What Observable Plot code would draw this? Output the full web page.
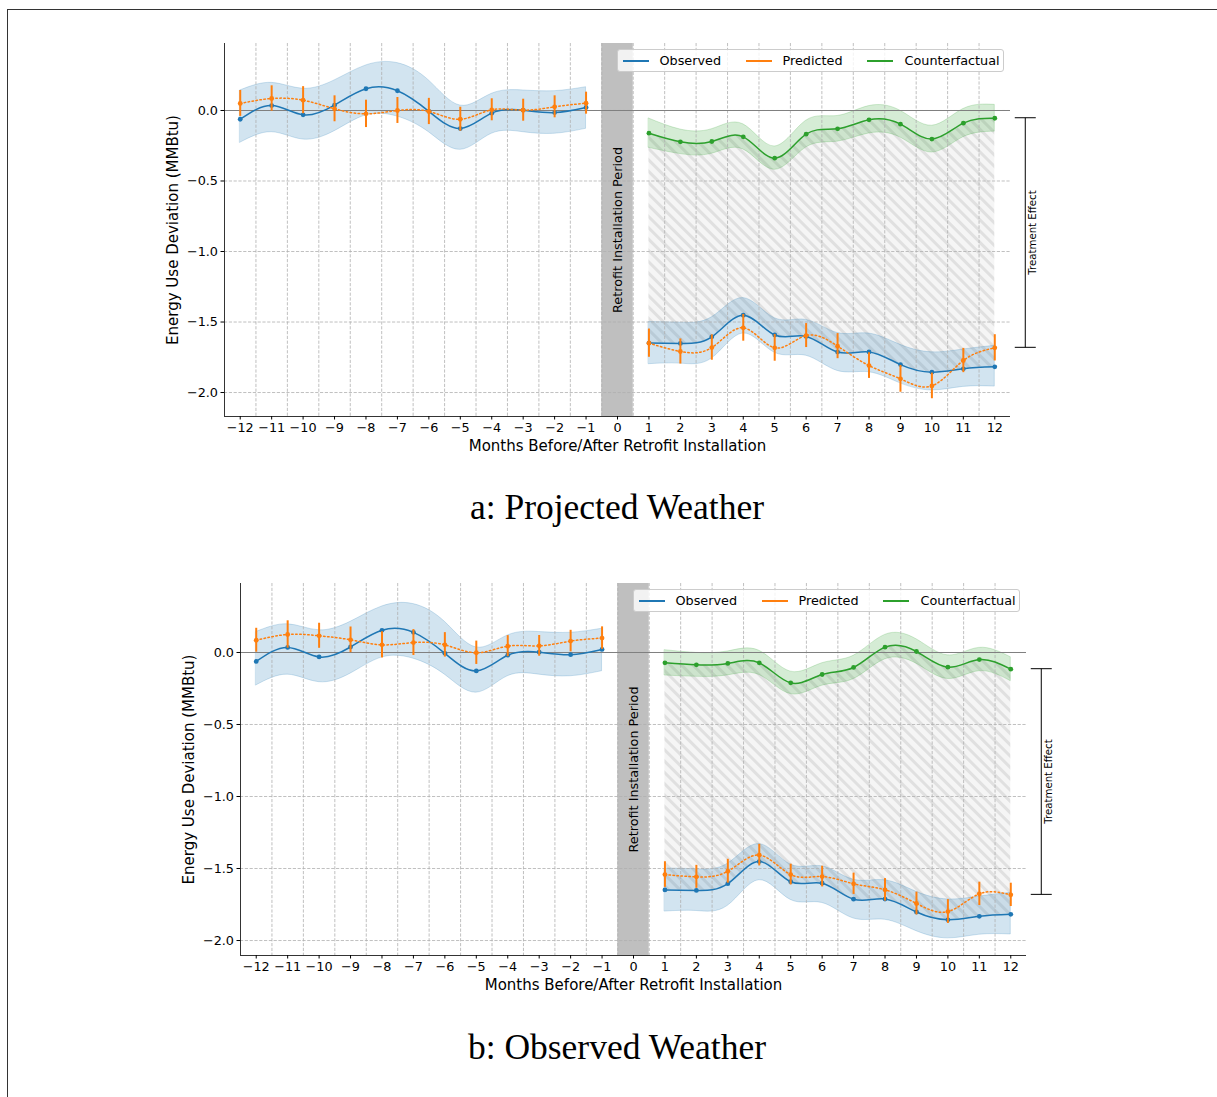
<!DOCTYPE html>
<html><head><meta charset="utf-8">
<script src="https://cdn.jsdelivr.net/npm/d3@7"></script>
<script src="https://cdn.jsdelivr.net/npm/@observablehq/plot@0.6"></script>
<style>
body{margin:0;background:#fff;font-family:"DejaVu Sans",sans-serif;}
#page{position:relative;width:1217px;height:1097px;overflow:hidden;background:#fff;}
.panel{position:absolute;left:0;}
#frame{position:absolute;left:7px;top:9px;width:1230px;height:1110px;border-top:1.5px solid #333;border-left:1.5px solid #333;pointer-events:none;z-index:5;}
.title{position:absolute;left:0;width:1234px;text-align:center;font-family:"Liberation Serif",serif;font-size:35.5px;line-height:34px;color:#000;}
.legend{position:absolute;width:387px;height:23px;box-sizing:border-box;border:1px solid #cccccc;border-radius:3px;background:rgba(255,255,255,0.8);z-index:3;font-family:"DejaVu Sans",sans-serif;font-size:12.8px;}
.legend .ln{position:absolute;top:10px;height:1.5px;width:26px;}
.legend .tx{position:absolute;top:2.5px;line-height:16px;color:#000;white-space:nowrap;}
</style>
</head><body>
<div id="page"><div id="frame"></div></div>
<script>
// ---------- data ----------
const monthsPre  = [-12,-11,-10,-9,-8,-7,-6,-5,-4,-3,-2,-1];
const monthsPost = [1,2,3,4,5,6,7,8,9,10,11,12];
const xTicks = [-12,-11,-10,-9,-8,-7,-6,-5,-4,-3,-2,-1,0,1,2,3,4,5,6,7,8,9,10,11,12];
const yTicks = [-2.0,-1.5,-1.0,-0.5,0.0];
const retrofitMonth = 0;
const legendLabels = ["Observed","Predicted","Counterfactual"];
const panelTitles = ["a: Projected Weather","b: Observed Weather"];
const xLabel = "Months Before/After Retrofit Installation";
const yLabel = "Energy Use Deviation (MMBtu)";

// observed energy-use deviation (same in both panels)
const obsPre   = [-0.062,0.035,-0.031,0.038,0.154,0.140,-0.006,-0.128,-0.019,0.002,-0.015,0.021];
const obsPreHi = [0.142,0.196,0.154,0.213,0.319,0.336,0.213,0.035,0.118,0.142,0.137,0.165];
const obsPreLo = [-0.229,-0.154,-0.206,-0.147,-0.035,-0.043,-0.154,-0.279,-0.165,-0.154,-0.165,-0.130];
const obsPost   = [-1.649,-1.652,-1.605,-1.452,-1.592,-1.602,-1.713,-1.712,-1.802,-1.856,-1.832,-1.818];
const obsPostHi = [-1.500,-1.505,-1.467,-1.330,-1.473,-1.485,-1.578,-1.582,-1.662,-1.715,-1.695,-1.669];
const obsPostLo = [-1.799,-1.795,-1.759,-1.581,-1.718,-1.739,-1.847,-1.856,-1.935,-1.985,-1.960,-1.958];

// panel a: projected weather
const predPreA  = [0.050,0.085,0.073,0.012,-0.024,0.000,-0.007,-0.062,0.005,0.002,0.026,0.052];
const errPreA   = [0.092,0.090,0.096,0.092,0.097,0.092,0.093,0.085,0.078,0.078,0.078,0.078];
const predPostA = [-1.650,-1.709,-1.681,-1.541,-1.683,-1.596,-1.671,-1.809,-1.903,-1.953,-1.773,-1.683];
const errPostA  = [0.100,0.089,0.090,0.095,0.095,0.085,0.089,0.091,0.095,0.091,0.086,0.093];
const cfA       = [-0.161,-0.222,-0.220,-0.187,-0.338,-0.168,-0.130,-0.066,-0.097,-0.203,-0.090,-0.055];
const cfHalfA   = [0.104,0.087,0.087,0.089,0.083,0.095,0.091,0.097,0.095,0.095,0.100,0.095];

// panel b: observed weather
const predPreB  = [0.085,0.125,0.116,0.088,0.053,0.069,0.053,-0.002,0.044,0.046,0.079,0.100];
const errPreB   = [0.083,0.095,0.087,0.089,0.091,0.090,0.085,0.081,0.073,0.072,0.075,0.078];
const predPostB = [-1.542,-1.558,-1.519,-1.407,-1.542,-1.556,-1.606,-1.648,-1.743,-1.799,-1.676,-1.683];
const errPostB  = [0.089,0.080,0.083,0.075,0.072,0.072,0.074,0.078,0.079,0.083,0.081,0.081];
const cfB       = [-0.072,-0.086,-0.076,-0.072,-0.211,-0.153,-0.104,0.037,0.007,-0.102,-0.049,-0.116];
const cfHalfB   = [0.088,0.083,0.083,0.084,0.078,0.078,0.081,0.085,0.085,0.082,0.081,0.083];

const C = {blue:"#1f77b4", orange:"#ff7f0e", green:"#2ca02c"};
const xDomain = [-12.5, 12.5];
const gridX = xTicks.slice(0, -1).map(d => d + 0.5);

function hatchDefs(id) {
  return () => {
    const g = d3.create("svg:g");
    const pat = g.append("defs").append("pattern")
      .attr("id", id).attr("patternUnits", "userSpaceOnUse")
      .attr("width", 8).attr("height", 8)
      .attr("patternTransform", "rotate(-45)");
    pat.append("rect").attr("width", 8).attr("height", 8).attr("fill", "#f5f5f5");
    pat.append("rect").attr("width", 3).attr("height", 8).attr("fill", "#e0e0e0");
    return g.node();
  };
}

function bracketMark(xm, yTop, yBot, dx) {
  return (index, scales) => {
    const x = scales.x(xm) + dx;
    const y1 = scales.y(yTop), y2 = scales.y(yBot);
    const g = d3.create("svg:g").attr("stroke", "#000").attr("stroke-width", 1);
    g.append("line").attr("x1", x).attr("x2", x).attr("y1", y1).attr("y2", y2);
    g.append("line").attr("x1", x - 10.5).attr("x2", x + 10.5).attr("y1", y1).attr("y2", y1);
    g.append("line").attr("x1", x - 10.5).attr("x2", x + 10.5).attr("y1", y2).attr("y2", y2);
    g.append("text").attr("stroke", "none").attr("fill", "#000")
      .attr("font-size", "10.2px").attr("text-anchor", "middle")
      .attr("transform", `translate(${x + 7.5},${(y1 + y2) / 2}) rotate(-90)`)
      .attr("dy", "0.35em").text("Treatment Effect");
    return g.node();
  };
}

function chart(p) {
  const pre = monthsPre.map((m, i) => ({m, obs: obsPre[i], lo: obsPreLo[i], hi: obsPreHi[i], pred: p.predPre[i], err: p.errPre[i]}));
  const post = monthsPost.map((m, i) => ({m, obs: obsPost[i], lo: obsPostLo[i], hi: obsPostHi[i], pred: p.predPost[i], err: p.errPost[i], cf: p.cf[i], cfh: p.cfHalf[i]}));
  const id = "hatch-" + p.key;
  const last = post[post.length - 1];
  const grid = {stroke: "#b0b0b0", strokeWidth: 0.8, strokeDasharray: "3.2,1.6"};
  return Plot.plot({
    width: 1217, height: 470,
    marginLeft: p.ml, marginRight: 1217 - p.ml - 786, marginTop: 43, marginBottom: p.mb,
    x: {domain: xDomain},
    y: {domain: p.yDomain},
    style: {fontFamily: "DejaVu Sans, sans-serif", fontSize: "12.8px", color: "#000", background: "transparent", overflow: "visible"},
    marks: [
      hatchDefs(id),
      Plot.rect([retrofitMonth], {x1: d => d - 0.5, x2: d => d + 0.5, y1: () => p.yDomain[0], y2: () => p.yDomain[1], fill: "#bfbfbf"}),
      Plot.areaY(post, {x: "m", y1: "cf", y2: "obs", curve: "natural", fill: `url(#${id})`}),
      Plot.areaY(pre, {x: "m", y1: "lo", y2: "hi", curve: "natural", fill: C.blue, fillOpacity: 0.2, stroke: C.blue, strokeOpacity: 0.2}),
      Plot.areaY(post, {x: "m", y1: "lo", y2: "hi", curve: "natural", fill: C.blue, fillOpacity: 0.2, stroke: C.blue, strokeOpacity: 0.2}),
      Plot.areaY(post, {x: "m", y1: d => d.cf - d.cfh, y2: d => d.cf + d.cfh, curve: "natural", fill: C.green, fillOpacity: 0.2, stroke: C.green, strokeOpacity: 0.2}),
      Plot.ruleX(gridX, grid),
      Plot.ruleY(yTicks, grid),
      Plot.ruleY([0], {stroke: "#808080", strokeWidth: 1.2}),
      Plot.ruleY([p.yDomain[0]], {stroke: "#000", strokeWidth: 0.8}),
      Plot.ruleX([xDomain[0]], {stroke: "#000", strokeWidth: 0.8}),
      Plot.axisX({ticks: xTicks, tickFormat: d3.format("d"), tickSize: 3.5, tickPadding: 3, label: null}),
      Plot.axisY({ticks: yTicks, tickFormat: d3.format(".1f"), tickSize: 3.5, tickPadding: 3, label: null}),
      Plot.text([xLabel], {frameAnchor: "bottom", dy: 30, text: d => d, fontSize: 15, lineAnchor: "middle", fill: "#000"}),
      Plot.text([yLabel], {frameAnchor: "left", dx: -51, rotate: -90, text: d => d, fontSize: 15, textAnchor: "middle", lineAnchor: "middle", fill: "#000"}),
      // observed
      Plot.line(pre, {x: "m", y: "obs", curve: "natural", stroke: C.blue, strokeWidth: 1.5}),
      Plot.dot(pre, {x: "m", y: "obs", r: 2.4, fill: C.blue}),
      Plot.line(post, {x: "m", y: "obs", curve: "natural", stroke: C.blue, strokeWidth: 1.5}),
      Plot.dot(post, {x: "m", y: "obs", r: 2.4, fill: C.blue}),
      // predicted
      Plot.line(pre, {x: "m", y: "pred", curve: "natural", stroke: C.orange, strokeWidth: 1.5, strokeDasharray: "1.5,2.5"}),
      Plot.ruleX(pre, {x: "m", y1: d => d.pred - d.err, y2: d => d.pred + d.err, stroke: C.orange, strokeWidth: 2}),
      Plot.dot(pre, {x: "m", y: "pred", r: 2.4, fill: C.orange}),
      Plot.line(post, {x: "m", y: "pred", curve: "natural", stroke: C.orange, strokeWidth: 1.5, strokeDasharray: "1.5,2.5"}),
      Plot.ruleX(post, {x: "m", y1: d => d.pred - d.err, y2: d => d.pred + d.err, stroke: C.orange, strokeWidth: 2}),
      Plot.dot(post, {x: "m", y: "pred", r: 2.4, fill: C.orange}),
      // counterfactual
      Plot.line(post, {x: "m", y: "cf", curve: "natural", stroke: C.green, strokeWidth: 1.5}),
      Plot.dot(post, {x: "m", y: "cf", r: 2.4, fill: C.green}),
      Plot.text([retrofitMonth], {x: d => d, frameAnchor: "middle", rotate: -90, text: () => "Retrofit Installation Period", fontSize: 12.8, fill: "#000"}),
      bracketMark(last.m, last.cf, last.pred, 31)
    ]
  });
}

function legend(left, top) {
  const div = document.createElement("div");
  div.className = "legend";
  div.style.left = left + "px";
  div.style.top = top + "px";
  const colors = [C.blue, C.orange, C.green];
  const lineX = [5, 128, 249];
  const textX = [42, 165, 287];
  legendLabels.forEach((lab, i) => {
    const ln = document.createElement("span");
    ln.className = "ln"; ln.style.left = lineX[i] + "px"; ln.style.background = colors[i];
    const tx = document.createElement("span");
    tx.className = "tx"; tx.style.left = textX[i] + "px"; tx.textContent = lab;
    div.appendChild(ln); div.appendChild(tx);
  });
  return div;
}

const page = document.getElementById("page");
const panels = [
  {key: "a", top: 0, ml: 224, mb: 54, yDomain: [-2.170, 0.475], predPre: predPreA, errPre: errPreA, predPost: predPostA, errPost: errPostA, cf: cfA, cfHalf: cfHalfA, titleTop: 490},
  {key: "b", top: 540, ml: 240, mb: 55, yDomain: [-2.104, 0.479], predPre: predPreB, errPre: errPreB, predPost: predPostB, errPost: errPostB, cf: cfB, cfHalf: cfHalfB, titleTop: 1030}
];
panels.forEach((p, i) => {
  const svg = chart(p);
  const wrap = document.createElement("div");
  wrap.className = "panel"; wrap.style.top = p.top + "px";
  wrap.appendChild(svg);
  page.appendChild(wrap);
  page.appendChild(legend(p.ml + 786 - 6.5 - 387, p.top + 43 + 6));
  const t = document.createElement("div");
  t.className = "title"; t.style.top = p.titleTop + "px"; t.textContent = panelTitles[i];
  page.appendChild(t);
});
</script>
</body></html>
